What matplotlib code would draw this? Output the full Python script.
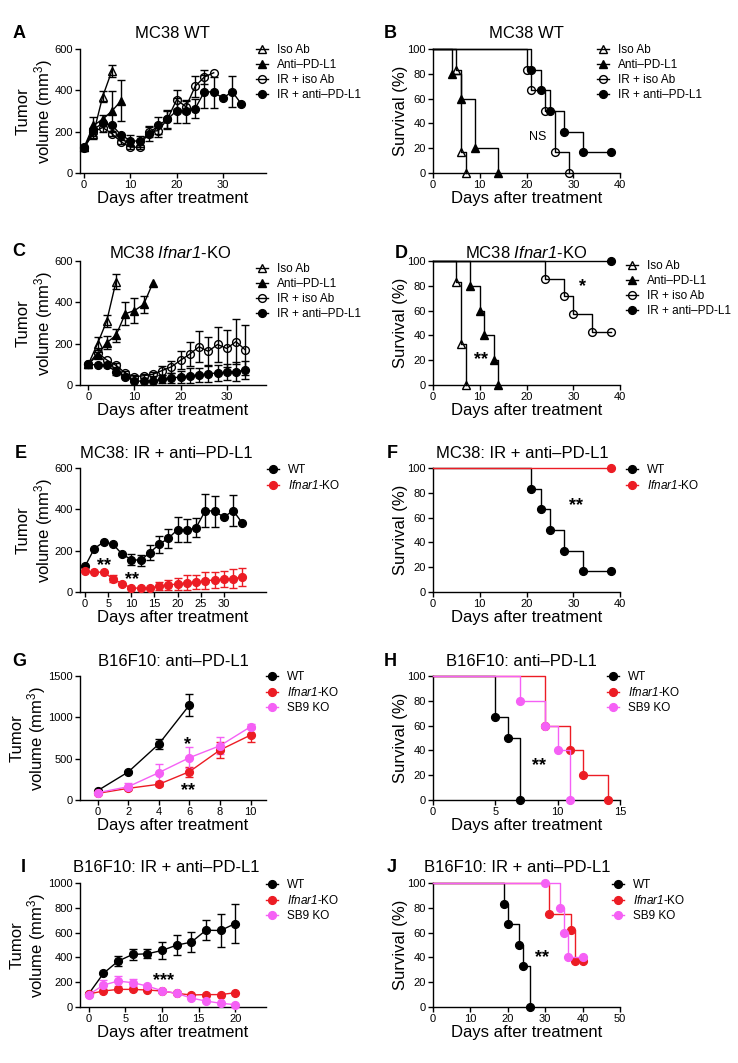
import matplotlib
matplotlib.use('Agg')
import matplotlib.pyplot as plt
import numpy as np

plt.rcParams['font.family'] = ['Liberation Sans', 'DejaVu Sans']
plt.rcParams['mathtext.fontset'] = 'custom'
plt.rcParams['mathtext.rm'] = 'Liberation Sans'
plt.rcParams['mathtext.it'] = 'Liberation Sans:italic'
plt.rcParams['mathtext.sf'] = 'Liberation Sans:italic'
plt.rcParams['axes.linewidth'] = 1.0

RED = '#ec1c24'
PINK = '#f560f5'
BLACK = 'black'
KO = '$\\mathsf{Ifnar1}$-KO'

# ---------------- tumor growth data ----------------
days_0_34 = list(range(0, 35, 2))

# A  MC38 WT
a_iso_days = [0, 2, 4, 6]
a_iso = [125, 190, 370, 495]
a_iso_err = [0, 25, 25, 30]
a_pdl1_days = [0, 2, 4, 6, 8]
a_pdl1 = [125, 230, 260, 300, 350]
a_pdl1_err = [0, 40, 20, 95, 100]
a_ir_iso_days = list(range(0, 29, 2))
a_ir_iso = [120, 200, 220, 190, 150, 125, 125, 200, 205, 260, 355, 320, 420, 465, 485]
a_ir_iso_err = [0, 20, 20, 10, 10, 10, 10, 25, 30, 40, 45, 30, 50, 35, 0]

# WT IR + anti-PD-L1 (A and E)
wt_ir_pdl1 = [125, 210, 242, 232, 183, 157, 153, 191, 230, 260, 302, 298, 312, 394, 391, 362, 394, 333]
wt_ir_pdl1_err = [0, 0, 0, 0, 0, 25, 25, 35, 40, 45, 60, 55, 45, 80, 75, 0, 75, 0]

# C  MC38 Ifnar1-KO
c_iso_days = [0, 2, 4, 6]
c_iso = [100, 200, 310, 500]
c_iso_err = [0, 30, 30, 35]
c_pdl1_days = [0, 2, 4, 6, 8, 10, 12, 14]
c_pdl1 = [100, 145, 205, 240, 345, 360, 390, 495]
c_pdl1_err = [0, 15, 30, 30, 55, 60, 40, 0]
c_ir_iso = [100, 156, 121, 95, 58, 40, 45, 52, 70, 88, 120, 150, 185, 163, 196, 177, 210, 170]
c_ir_iso_err = [0, 0, 0, 10, 10, 10, 10, 10, 20, 30, 45, 60, 75, 70, 85, 90, 110, 120]

# KO IR + anti-PD-L1 (C and E)
ko_ir_pdl1 = [100, 97, 95, 65, 40, 20, 18, 20, 28, 35, 38, 45, 48, 55, 58, 62, 65, 72]
ko_ir_pdl1_err = [0, 0, 0, 15, 0, 0, 0, 0, 20, 25, 30, 35, 35, 40, 40, 40, 45, 45]

# G  B16F10 anti-PD-L1
g_days = [0, 2, 4, 6, 8, 10]
g_wt_days = [0, 2, 4, 6]
g_wt = [113, 339, 677, 1149]
g_wt_err = [0, 15, 60, 130]
g_ko = [80, 141, 190, 343, 605, 786]
g_ko_err = [0, 0, 20, 60, 100, 80]
g_sb9 = [88, 161, 331, 512, 657, 887]
g_sb9_err = [0, 40, 100, 125, 100, 30]

# I  B16F10 IR + anti-PD-L1
i_days = list(range(0, 21, 2))
i_wt = [107, 271, 370, 424, 429, 456, 499, 523, 619, 617, 673]
i_wt_err = [0, 0, 40, 45, 35, 65, 80, 80, 80, 130, 155]
i_ko = [105, 129, 142, 142, 137, 129, 110, 97, 100, 100, 115]
i_ko_err = [0, 0, 0, 0, 0, 0, 0, 0, 0, 0, 0]
i_sb9 = [99, 177, 209, 196, 169, 131, 110, 72, 48, 30, 19]
i_sb9_err = [0, 40, 40, 30, 0, 0, 0, 0, 0, 0, 0]

# ---------------- survival data ----------------
b_iso_t, b_iso_s = [0, 5, 6, 7], [100, 83.3, 16.7, 0]
b_pdl1_t, b_pdl1_s = [0, 4, 6, 9, 14], [100, 80, 60, 20, 0]
b_ir_iso_t, b_ir_iso_s = [0, 20, 21, 24, 26, 29], [100, 83.3, 66.7, 50, 16.7, 0]
wt_ir_t, wt_ir_s = [0, 21, 23, 25, 28, 32, 38], [100, 83.3, 66.7, 50, 33.3, 16.7, 16.7]

d_iso_t, d_iso_s = [0, 5, 6, 7], [100, 83.3, 33.3, 0]
d_pdl1_t, d_pdl1_s = [0, 8, 10, 11, 13, 14], [100, 80, 60, 40, 20, 0]
d_ir_iso_t, d_ir_iso_s = [0, 24, 28, 30, 34, 38], [100, 85.7, 71.4, 57.1, 42.9, 42.9]
ko_ir_t, ko_ir_s = [0, 38], [100, 100]

h_wt_t, h_wt_s = [0, 5, 6, 7], [100, 66.7, 50, 0]
h_ko_t, h_ko_s = [0, 9, 11, 12, 14], [100, 60, 40, 20, 0]
h_sb9_t, h_sb9_s = [0, 7, 9, 10, 11], [100, 80, 60, 40, 0]

j_wt_t, j_wt_s = [0, 19, 20, 23, 24, 26], [100, 83.3, 66.7, 50, 33.3, 0]
j_ko_t, j_ko_s = [0, 31, 37, 38, 40], [100, 75, 62.5, 37.5, 37.5]
j_sb9_t, j_sb9_s = [0, 30, 34, 35, 36, 40], [100, 100, 80, 60, 40, 40]

# ---------------- figure ----------------
W, H = 738, 1063
fig = plt.figure(figsize=(W / 100, H / 100), dpi=100)

LEFT = (80, 186)
RIGHT = (433, 187)
TOPS = [49, 261, 468, 676, 883]


def make_ax(col, row):
    x, w = col
    top = TOPS[row]
    h = 124
    ax = fig.add_axes([x / W, 1 - (top + h) / H, w / W, h / H])
    ax.spines['top'].set_visible(False)
    ax.spines['right'].set_visible(False)
    ax.tick_params(direction='out', length=3.5, width=1, labelsize=8, pad=1.5)
    ax.set_xlabel('Days after treatment', fontsize=12, labelpad=1)
    return ax


def growth(ax, days, vals, err, color, marker, filled, label):
    days, vals, err = np.asarray(days), np.asarray(vals), np.asarray(err)
    m = err > 0
    if m.any():
        ax.errorbar(days[m], vals[m], yerr=err[m], fmt='none', ecolor=color,
                    elinewidth=1, capsize=3, capthick=1, zorder=2)
    ms = 6 if marker == '^' else 5.6
    ln, = ax.plot(days, vals, '-', color=color, lw=1, marker=marker, ms=ms,
                  mfc=color if filled else 'none', mec=color, mew=1,
                  label=label, zorder=3, clip_on=False)
    return ln


def survival(ax, t, s, color, marker, filled, label):
    ms = 6 if marker == '^' else 5.6
    ln, = ax.plot(t, s, color=color, lw=1, drawstyle='steps-post', marker=marker,
                  markevery=slice(1, None), ms=ms, mfc=color if filled else 'none',
                  mec=color, mew=1, label=label, clip_on=False, zorder=3)
    return ln


def legend(ax, mx, row1):
    ax.legend(loc='upper left', bbox_to_anchor=((mx - 6) / W, 1 - (row1 - 8) / H),
              bbox_transform=fig.transFigure, frameon=False, fontsize=8.5,
              handlelength=1.0, handletextpad=0.75, labelspacing=0.26,
              borderpad=0, borderaxespad=0)


def tumor_axes(ax, xlim, xticks, ylim, yticks):
    ax.set_xlim(*xlim)
    ax.set_xticks(xticks)
    ax.set_ylim(*ylim)
    ax.set_yticks(yticks)
    ax.set_ylabel('Tumor\nvolume (mm$^3$)', fontsize=12, labelpad=0, linespacing=1.05)


def surv_axes(ax, xmax, xticks):
    ax.set_xlim(0, xmax)
    ax.set_xticks(xticks)
    ax.set_ylim(0, 100)
    ax.set_yticks([0, 20, 40, 60, 80, 100])
    ax.set_ylabel('Survival (%)', fontsize=12, labelpad=0)


def stars(ax, text, x, y, fs=13):
    ax.annotate(text, (x, y), xytext=(0, -0.55 * fs), textcoords='offset points',
                ha='center', va='baseline', fontsize=fs, fontweight='bold')


# A
ax = make_ax(LEFT, 0)
growth(ax, a_iso_days, a_iso, a_iso_err, BLACK, '^', False, 'Iso Ab')
growth(ax, a_pdl1_days, a_pdl1, a_pdl1_err, BLACK, '^', True, 'Anti–PD-L1')
growth(ax, a_ir_iso_days, a_ir_iso, a_ir_iso_err, BLACK, 'o', False, 'IR + iso Ab')
growth(ax, days_0_34, wt_ir_pdl1, wt_ir_pdl1_err, BLACK, 'o', True, 'IR + anti–PD-L1')
tumor_axes(ax, (-0.9, 39.3), [0, 10, 20, 30], (0, 600), [0, 200, 400, 600])
legend(ax, 262, 52)

# B
ax = make_ax(RIGHT, 0)
survival(ax, b_iso_t, b_iso_s, BLACK, '^', False, 'Iso Ab')
survival(ax, b_pdl1_t, b_pdl1_s, BLACK, '^', True, 'Anti–PD-L1')
survival(ax, b_ir_iso_t, b_ir_iso_s, BLACK, 'o', False, 'IR + iso Ab')
survival(ax, wt_ir_t, wt_ir_s, BLACK, 'o', True, 'IR + anti–PD-L1')
surv_axes(ax, 40, [0, 10, 20, 30, 40])
legend(ax, 603, 52)
ax.text(22.4, 29, 'NS', ha='center', va='center', fontsize=9)

# C
ax = make_ax(LEFT, 1)
growth(ax, c_iso_days, c_iso, c_iso_err, BLACK, '^', False, 'Iso Ab')
growth(ax, c_pdl1_days, c_pdl1, c_pdl1_err, BLACK, '^', True, 'Anti–PD-L1')
growth(ax, days_0_34, c_ir_iso, c_ir_iso_err, BLACK, 'o', False, 'IR + iso Ab')
growth(ax, days_0_34, ko_ir_pdl1, ko_ir_pdl1_err, BLACK, 'o', True, 'IR + anti–PD-L1')
tumor_axes(ax, (-1.8, 38.5), [0, 10, 20, 30], (0, 600), [0, 200, 400, 600])
legend(ax, 262, 271)

# D
ax = make_ax(RIGHT, 1)
survival(ax, d_iso_t, d_iso_s, BLACK, '^', False, 'Iso Ab')
survival(ax, d_pdl1_t, d_pdl1_s, BLACK, '^', True, 'Anti–PD-L1')
survival(ax, d_ir_iso_t, d_ir_iso_s, BLACK, 'o', False, 'IR + iso Ab')
survival(ax, ko_ir_t, ko_ir_s, BLACK, 'o', True, 'IR + anti–PD-L1')
surv_axes(ax, 40, [0, 10, 20, 30, 40])
legend(ax, 632, 268)
stars(ax, '*', 32, 84)
stars(ax, '**', 10.2, 25)

# E
ax = make_ax(LEFT, 2)
growth(ax, days_0_34, wt_ir_pdl1, wt_ir_pdl1_err, BLACK, 'o', True, 'WT')
growth(ax, days_0_34, ko_ir_pdl1, ko_ir_pdl1_err, RED, 'o', True, KO)
tumor_axes(ax, (-1.1, 39.1), [0, 5, 10, 15, 20, 25, 30], (0, 600), [0, 200, 400, 600])
legend(ax, 273, 472)
stars(ax, '**', 4.1, 154)
stars(ax, '**', 10.1, 87)

# F
ax = make_ax(RIGHT, 2)
survival(ax, wt_ir_t, wt_ir_s, BLACK, 'o', True, 'WT')
survival(ax, ko_ir_t, ko_ir_s, RED, 'o', True, KO)
surv_axes(ax, 40, [0, 10, 20, 30, 40])
legend(ax, 632, 472)
stars(ax, '**', 30.5, 74)

# G
ax = make_ax(LEFT, 3)
growth(ax, g_wt_days, g_wt, g_wt_err, BLACK, 'o', True, 'WT')
growth(ax, g_days, g_ko, g_ko_err, RED, 'o', True, KO)
growth(ax, g_days, g_sb9, g_sb9_err, PINK, 'o', True, 'SB9 KO')
tumor_axes(ax, (-1.15, 11), [0, 2, 4, 6, 8, 10], (0, 1500), [0, 500, 1000, 1500])
legend(ax, 272, 679)
stars(ax, '*', 5.85, 740)
stars(ax, '**', 5.9, 180)

# H
ax = make_ax(RIGHT, 3)
survival(ax, h_wt_t, h_wt_s, BLACK, 'o', True, 'WT')
survival(ax, h_ko_t, h_ko_s, RED, 'o', True, KO)
survival(ax, h_sb9_t, h_sb9_s, PINK, 'o', True, 'SB9 KO')
surv_axes(ax, 15, [0, 5, 10, 15])
legend(ax, 613, 679)
stars(ax, '**', 8.5, 32)

# I
ax = make_ax(LEFT, 4)
growth(ax, i_days, i_wt, i_wt_err, BLACK, 'o', True, 'WT')
growth(ax, i_days, i_ko, i_ko_err, RED, 'o', True, KO)
growth(ax, i_days, i_sb9, i_sb9_err, PINK, 'o', True, 'SB9 KO')
tumor_axes(ax, (-1.2, 24.2), [0, 5, 10, 15, 20], (0, 1000), [0, 200, 400, 600, 800, 1000])
legend(ax, 272, 887)
stars(ax, '***', 10.2, 255)

# J
ax = make_ax(RIGHT, 4)
survival(ax, j_wt_t, j_wt_s, BLACK, 'o', True, 'WT')
survival(ax, j_ko_t, j_ko_s, RED, 'o', True, KO)
survival(ax, j_sb9_t, j_sb9_s, PINK, 'o', True, 'SB9 KO')
surv_axes(ax, 50, [0, 10, 20, 30, 40, 50])
legend(ax, 618, 887)
stars(ax, '**', 29.2, 44)

# titles and panel letters
titles = ['MC38 WT', 'MC38 WT', 'MC38 $\\mathsf{Ifnar1}$-KO', 'MC38 $\\mathsf{Ifnar1}$-KO',
          'MC38: IR + anti–PD-L1', 'MC38: IR + anti–PD-L1',
          'B16F10: anti–PD-L1', 'B16F10: anti–PD-L1',
          'B16F10: IR + anti–PD-L1', 'B16F10: IR + anti–PD-L1']
title_y = [34, 34, 253, 253, 454, 454, 662, 662, 868, 868]
title_x = [172, 526, 170, 526, 166, 522, 173, 521, 166, 517]
for t, x, y in zip(titles, title_x, title_y):
    fig.text(x / W, 1 - y / H, t, ha='center', va='center', fontsize=12)

letters = ['A', 'B', 'C', 'D', 'E', 'F', 'G', 'H', 'I', 'J']
letter_x = [13, 384, 12, 395, 15, 387, 12, 384, 21, 387]
letter_y = [34, 34, 252, 253, 454, 454, 662, 662, 868, 868]
for t, x, y in zip(letters, letter_x, letter_y):
    fig.text(x / W, 1 - y / H, t, ha='left', va='center', fontsize=13, fontweight='bold')

fig.savefig('out.png', dpi=100)
